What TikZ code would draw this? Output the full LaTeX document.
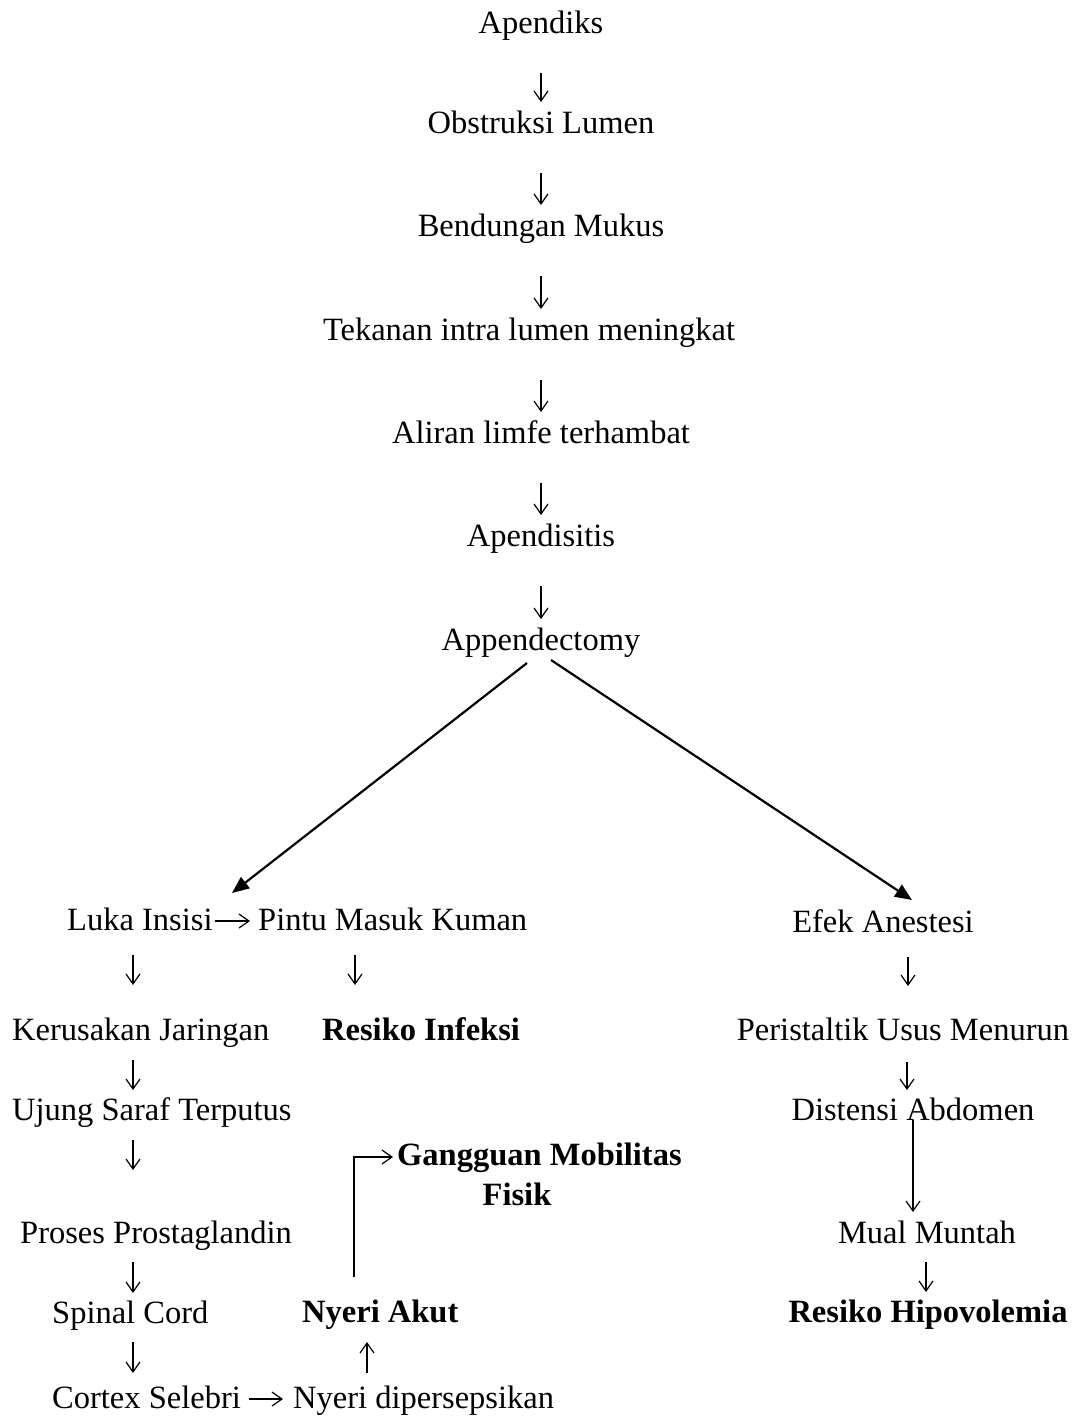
\documentclass[tikz,border=0pt]{standalone}
\usepackage{fontspec}
\setmainfont{Liberation Serif}
\usetikzlibrary{arrows.meta}
\begin{document}
\begin{tikzpicture}[x=1pt,y=-1pt,
  txt/.style={inner sep=0pt, font=\fontsize{32.5pt}{38pt}\selectfont},
  bold/.style={inner sep=0pt, font=\fontsize{32.5pt}{38pt}\selectfont\bfseries},
  glyph/.style={line width=1.2pt, -{Straight Barb[length=10pt,width=14pt]}},
  big/.style={line width=2.2pt, -{Triangle[length=17pt,width=14pt]}}]
\useasboundingbox (0,0) rectangle (1075,1417);
\fill[white] (0,0) rectangle (1075,1417);
% column coordinates
\coordinate (cC) at (541,0);
\coordinate (cL) at (133,0);
\coordinate (cM) at (355,0);
\coordinate (cU) at (367,0);
\coordinate (cV) at (354,0);
\coordinate (cR1) at (908,0);
\coordinate (cR2) at (907,0);
\coordinate (cR3) at (913,0);
\coordinate (cR4) at (926,0);
% top column
\node[txt, anchor=base] (apendiks) at (541,33) {Apendiks};
\node[txt, anchor=base] (obstruksi) at (541,133) {Obstruksi Lumen};
\node[txt, anchor=base] (bendungan) at (541,236) {Bendungan Mukus};
\node[txt, anchor=base] (tekanan) at (529,340) {Tekanan intra lumen meningkat};
\node[txt, anchor=base] (aliran) at (541,443) {Aliran limfe terhambat};
\node[txt, anchor=base] (apendisitis) at (541,546) {Apendisitis};
\node[txt, anchor=base] (app) at (541,650) {Appendectomy};
% left branch
\node[txt, anchor=base west] (luka) at (67,930) {Luka Insisi};
\node[txt, anchor=base west] (pintu) at (258,930) {Pintu Masuk Kuman};
\node[txt, anchor=base west] (kerus) at (12,1040) {Kerusakan Jaringan};
\node[bold, anchor=base west] (infeksi) at (322,1040) {Resiko Infeksi};
\node[txt, anchor=base west] (ujung) at (12,1120) {Ujung Saraf Terputus};
\node[bold, anchor=base west] (gang) at (397,1165) {Gangguan Mobilitas};
\node[bold, anchor=base] (fisik) at (517,1205) {Fisik};
\node[txt, anchor=base west] (proses) at (20,1243) {Proses Prostaglandin};
\node[txt, anchor=base west] (spinal) at (52,1323) {Spinal Cord};
\node[bold, anchor=base west] (akut) at (302,1322) {Nyeri Akut};
\node[txt, anchor=base west] (cortex) at (52,1408) {Cortex Selebri};
\node[txt, anchor=base west] (nyeridip) at (293,1408) {Nyeri dipersepsikan};
% right branch
\node[txt, anchor=base] (efek) at (883,932) {Efek Anestesi};
\node[txt, anchor=base] (peris) at (903,1040) {Peristaltik Usus Menurun};
\node[txt, anchor=base] (dist) at (913,1120) {Distensi Abdomen};
\node[txt, anchor=base] (mual) at (927,1243) {Mual Muntah};
\node[bold, anchor=base] (hipo) at (928,1322) {Resiko Hipovolemia};
% top chain
\foreach \a/\b in {apendiks/obstruksi, obstruksi/bendungan, bendungan/tekanan, tekanan/aliran, aliran/apendisitis, apendisitis/app}
  \draw[glyph, shorten <=40pt, shorten >=31pt] (\a.base -| cC) -- (\b.base -| cC);
% big branches
\draw[big] ([xshift=-14pt,yshift=-13pt]app.base) -- ([xshift=165pt,yshift=37pt]luka.base west);
\draw[big] ([xshift=10pt,yshift=-10pt]app.base) -- ([xshift=29pt,yshift=32pt]efek.base);
% left column
\draw[glyph, shorten <=2pt, shorten >=8pt] ([yshift=9pt]luka.base east) -- ([yshift=9pt]pintu.base west);
\draw[glyph, shorten <=25pt, shorten >=55pt] (luka.base -| cL) -- (kerus.base -| cL);
\draw[glyph, shorten <=20pt, shorten >=30pt] (kerus.base -| cL) -- (ujung.base -| cL);
\draw[glyph, shorten <=20pt, shorten >=73pt] (ujung.base -| cL) -- (proses.base -| cL);
\draw[glyph, shorten <=19pt, shorten >=30pt] (proses.base -| cL) -- (spinal.base -| cL);
\draw[glyph, shorten <=19pt, shorten >=35pt] (spinal.base -| cL) -- (cortex.base -| cL);
\draw[glyph, shorten <=8pt, shorten >=10pt] ([yshift=9pt]cortex.base east) -- ([yshift=9pt]nyeridip.base west);
% middle column
\draw[glyph, shorten <=25pt, shorten >=55pt] (pintu.base -| cM) -- (infeksi.base -| cM);
\draw[glyph, shorten <=35pt, shorten >=20pt] (nyeridip.base -| cU) -- (akut.base -| cU);
\draw[glyph, shorten <=45pt, shorten >=4pt] (akut.base -| cV) |- ([yshift=8pt]gang.base west);
% right column
\draw[glyph, shorten <=25pt, shorten >=54pt] (efek.base -| cR1) -- (peris.base -| cR1);
\draw[glyph, shorten <=22pt, shorten >=30pt] (peris.base -| cR2) -- (dist.base -| cR2);
\draw[glyph, shorten >=31pt] (dist.base -| cR3) -- (mual.base -| cR3);
\draw[glyph, shorten <=19pt, shorten >=30pt] (mual.base -| cR4) -- (hipo.base -| cR4);
\end{tikzpicture}
\end{document}
